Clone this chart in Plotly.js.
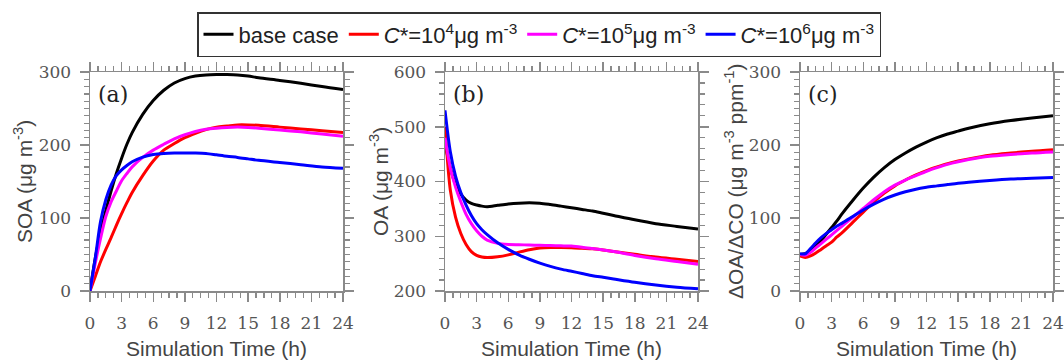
<!DOCTYPE html>
<html>
<head>
<meta charset="utf-8">
<script src="https://cdn.plot.ly/plotly-3.0.1.min.js"></script>
<style>html,body{margin:0;padding:0;background:#fff;}#chart{width:1064px;height:363px;}</style>
</head>
<body>
<div id="chart"></div>
<script>
// Simulation time (h)
const time = [0,0.5,1,1.5,2,2.5,3,3.5,4,5,6,7,8,9,10,11,12,13,14,15,16,18,20,22,24];

const seriesNames = ["base case",
  "<i>C</i>*=10<sup>4</sup>μg m<sup>-3</sup>",
  "<i>C</i>*=10<sup>5</sup>μg m<sup>-3</sup>",
  "<i>C</i>*=10<sup>6</sup>μg m<sup>-3</sup>"];
const seriesColors = ["#000000", "#ff0000", "#ff00ff", "#0000ff"];

// (a) SOA (ug m-3)
const soaBase = [0,45,80,110,137,161,182,201,217,242,261,275,285,291,294.5,296,296.5,296.5,296,294.5,292,288.5,284.5,280,276];
const soaC4   = [0,20,40,57,73,90,106,121,135,158,178,193,202,210,216,221,224.5,226,227.5,227.5,227,224.5,222,219.5,217];
const soaC5   = [0,38,72,102,122,137,151,161,170,183,193,201,208.5,214,218.5,221.5,223,224,224.5,224,223,220.5,218,215,212];
const soaC6   = [0,45,95,125,145,158,166,172,177,183.5,187,188.5,189,189,189,188.5,186.5,184.5,183,181,179,176,173,170,168];

// (b) OA (ug m-3)
const oaBase = [470,425,395,377,366,360,357,355,354,356.5,359,360.5,361,360.5,358,355,352,349,346,342,338,330,323,318,313];
const oaC4   = [500,385,335,305,285,272,265,262,261,262.5,266,271,275.5,278.5,279.5,279.5,279,278,277,275,272,267,262,258,254];
const oaC5   = [480,425,390,363,340,323,310,300,293,287,285,284.5,284,283.5,283,282.5,282,280,277.5,275,272,265,259,254,249];
const oaC6   = [530,455,410,380,357,338,323,312,303,288,276,266,258,251,245,240,236,232,228,225,222,216,211,207,204];

// (c) dOA/dCO (ug m-3 ppm-1)
const ratioBase = [50,51,56,62,69,78,87,96,106,124,141,156,169,180,189,197,204,210,215,219,223,229,233.5,237,240];
const ratioC4   = [48,46,48,52,57,62,67,74,80,94,108,122,134,144,152,159,165,170,174.5,178,181,186,189,191.5,193.5];
const ratioC5   = [50,49,53,59,65,71,77,83,89,101,113,125,136,145,152,158,164,169,173.5,177,180,184.5,187,189,190.5];
const ratioC6   = [51,51,58,66,73,79,84,89,93,102,111,119,126,131.5,136,139.5,142,144,146,147.5,149,151.5,153.5,154.5,155.5];

const xTickVals = [0,3,6,9,12,15,18,21,24];
const panelLabels = ["(a)", "(b)", "(c)"];
const yTitles = ["SOA (μg m<sup>-3</sup>)", "OA (μg m<sup>-3</sup>)", "ΔOA/ΔCO (μg m<sup>-3</sup> ppm<sup>-1</sup>)"];
const xTitle = "Simulation Time (h)";

const panels = [
  {data: [soaBase, soaC4, soaC5, soaC6], xa: "x", ya: "y"},
  {data: [oaBase, oaC4, oaC5, oaC6], xa: "x2", ya: "y2"},
  {data: [ratioBase, ratioC4, ratioC5, ratioC6], xa: "x3", ya: "y3"}
];

const traces = [];
panels.forEach((p, pi) => {
  p.data.forEach((vals, si) => {
    traces.push({
      x: time, y: vals, xaxis: p.xa, yaxis: p.ya,
      type: "scatter", mode: "lines",
      name: seriesNames[si],
      showlegend: pi === 0,
      line: {color: seriesColors[si], width: 3, shape: "spline", smoothing: 0.8}
    });
  });
});

const W = 1064, H = 363;
const px = v => v / W, py = v => 1 - v / H;
const gray = "#8a8a8a";
const serif = "'DejaVu Serif', 'Liberation Serif', serif";
const sans = "'Liberation Sans', Arial, sans-serif";

function xAxis(l, r) {
  return {
    domain: [px(l), px(r)], range: [0, 24], tickmode: "array", tickvals: xTickVals,
    ticks: "outside", ticklen: 9, tickwidth: 1.5, tickcolor: gray,
    showline: true, linecolor: gray, linewidth: 1.5, mirror: "allticks",
    showgrid: false, zeroline: false,
    minor: {dtick: 0.75, tick0: 0, ticks: "outside", ticklen: 5, tickwidth: 1.2, tickcolor: gray, showgrid: false},
    tickfont: {family: serif, size: 17, color: "#555"},
    ticklabelstandoff: 7
  };
}
function yAxis(range, minorStep) {
  return {
    domain: [py(291), py(72)], range: range, dtick: 100, tick0: 0,
    ticks: "outside", ticklen: 9, tickwidth: 1.5, tickcolor: gray,
    showline: true, linecolor: gray, linewidth: 1.5, mirror: "allticks",
    showgrid: false, zeroline: false,
    minor: {dtick: minorStep, ticks: "outside", ticklen: 5, tickwidth: 1.2, tickcolor: gray, showgrid: false},
    tickfont: {family: serif, size: 17, color: "#555"},
    ticklabelstandoff: 5
  };
}

const xl = [[90,343],[445,698],[800,1053]];
const annotations = [];
xl.forEach((d, i) => {
  annotations.push({xref: "paper", yref: "paper", x: px(d[0] + 23), y: py(95), xanchor: "center", yanchor: "middle",
    text: panelLabels[i], showarrow: false, font: {family: serif, size: 22, color: "#222"}});
  annotations.push({xref: "paper", yref: "paper", x: px((d[0] + d[1]) / 2), y: py(348), xanchor: "center", yanchor: "middle",
    text: xTitle, showarrow: false, font: {family: sans, size: 21, color: "#444"}});
});
const yTitleX = [23, 379, 734];
yTitles.forEach((t, i) => {
  annotations.push({xref: "paper", yref: "paper", x: px(yTitleX[i]), y: py(182), xanchor: "center", yanchor: "middle",
    textangle: -90, text: t, showarrow: false, font: {family: sans, size: 21, color: "#444"}});
});

const layout = {
  width: W, height: H,
  margin: {l: 0, r: 0, t: 0, b: 0},
  paper_bgcolor: "#fff", plot_bgcolor: "#fff",
  showlegend: true,
  legend: {orientation: "h", x: px(539), xanchor: "center", y: py(12), yanchor: "top",
    bordercolor: "#333", borderwidth: 1.5, bgcolor: "#fff",
    font: {family: sans, size: 22, color: "#222"}},
  xaxis: xAxis(90, 343), xaxis2: xAxis(445, 698), xaxis3: xAxis(800, 1053),
  yaxis: yAxis([0, 300], 10), yaxis2: yAxis([200, 600], 20), yaxis3: yAxis([0, 300], 10),
  annotations: annotations
};
layout.xaxis.anchor = "y"; layout.xaxis2.anchor = "y2"; layout.xaxis3.anchor = "y3";
layout.yaxis.anchor = "x"; layout.yaxis2.anchor = "x2"; layout.yaxis3.anchor = "x3";

Plotly.newPlot("chart", traces, layout, {displayModeBar: false, staticPlot: true});
</script>
</body>
</html>
